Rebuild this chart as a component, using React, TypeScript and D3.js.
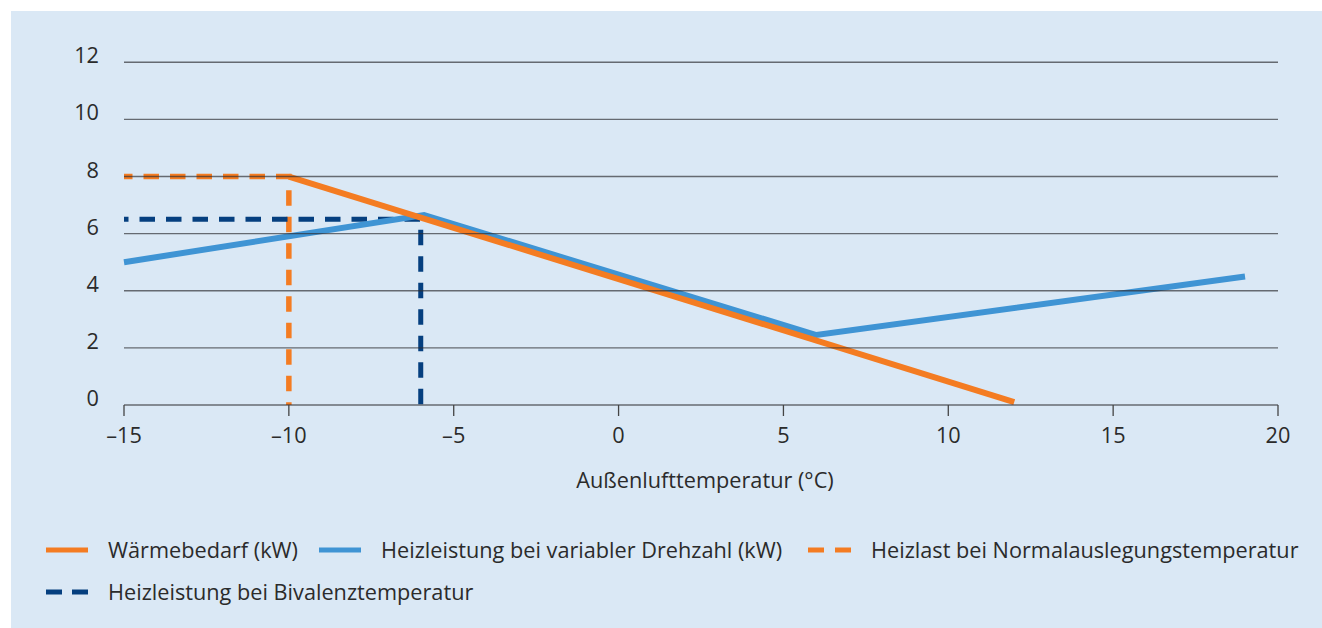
import React from 'react';
import { scaleLinear, line } from 'd3';

const xTicks = [-15, -10, -5, 0, 5, 10, 15, 20];
const yTicks = [0, 2, 4, 6, 8, 10, 12];
const xLabels = ['–15', '–10', '–5', '0', '5', '10', '15', '20'];

// Wärmebedarf (kW)
const demandTemp = [-10, 12];
const demandKw = [8, 0.1];
// Heizleistung bei variabler Drehzahl (kW)
const capacityTemp = [-15, -5.9, 6, 19];
const capacityKw = [5, 6.65, 2.45, 4.5];
// Heizlast bei Normalauslegungstemperatur
const normTemp = [-15, -10, -10];
const normKw = [8, 8, 0];
// Heizleistung bei Bivalenztemperatur
const bivTemp = [-15, -6, -6];
const bivKw = [6.5, 6.5, 0];

const ORANGE = '#f47c22';
const BLUE = '#3f94d4';
const NAVY = '#053f7f';
const TEXT = '#2b2b2b';
const FONT = '"Open Sans", "Liberation Sans", Arial, sans-serif';
const FS = 21.7;

const W = 1322;
const H = 628;

const x = scaleLinear().domain([-15, 20]).range([124, 1278]);
const y = scaleLinear().domain([0, 12]).range([405, 62.3]);

const toPts = (xs: number[], ys: number[]) => xs.map((v, i) => [v, ys[i]] as [number, number]);
const path = line<[number, number]>().x(d => x(d[0])).y(d => y(d[1]));

export default function App() {
  return (
    <svg width={W} height={H} style={{ position: 'absolute', left: 0, top: 0 }} fontFamily={FONT}>
      <rect x={11} y={11} width={W - 11} height={H - 11} fill="#dae8f5" />

      {/* dashed reference lines */}
      <path d={path(toPts(normTemp, normKw)) || ''} fill="none" stroke={ORANGE} strokeWidth={5.5} strokeDasharray="15.5 11" strokeDashoffset={7} />
      <path d={path(toPts(bivTemp, bivKw)) || ''} fill="none" stroke={NAVY} strokeWidth={5} strokeDasharray="15.5 11" strokeDashoffset={11} />

      {/* series */}
      <path d={path(toPts(capacityTemp, capacityKw)) || ''} fill="none" stroke={BLUE} strokeWidth={6} strokeLinejoin="miter" />
      <path d={path(toPts(demandTemp, demandKw)) || ''} fill="none" stroke={ORANGE} strokeWidth={6} />

      {/* grid */}
      {yTicks.map(t => (
        <line key={'g' + t} x1={124} x2={1278} y1={y(t)} y2={y(t)} stroke="rgba(45,45,50,0.68)" strokeWidth={1.4} />
      ))}
      {yTicks.map(t => (
        <text key={'yl' + t} x={99} y={y(t) + 1} textAnchor="end" fontSize={FS} fill={TEXT}>{t}</text>
      ))}

      {/* x axis ticks */}
      {xTicks.map((t, i) => (
        <g key={'x' + t}>
          <line x1={x(t)} x2={x(t)} y1={405} y2={416} stroke="#444" strokeWidth={1.3} />
          <text x={x(t)} y={443} textAnchor="middle" fontSize={FS} fill={TEXT}>{xLabels[i]}</text>
        </g>
      ))}
      <text x={705} y={488} textAnchor="middle" fontSize={FS} fill={TEXT}>Außenlufttemperatur (°C)</text>

      {/* legend */}
      <line x1={46} x2={88} y1={550} y2={550} stroke={ORANGE} strokeWidth={5} />
      <text x={108} y={558} fontSize={FS} fill={TEXT}>Wärmebedarf (kW)</text>
      <line x1={319} x2={361} y1={550} y2={550} stroke={BLUE} strokeWidth={5} />
      <text x={381} y={558} fontSize={FS} fill={TEXT}>Heizleistung bei variabler Drehzahl (kW)</text>
      <line x1={808} x2={851} y1={550} y2={550} stroke={ORANGE} strokeWidth={5} strokeDasharray="16 11" />
      <text x={871} y={558} fontSize={FS} fill={TEXT}>Heizlast bei Normalauslegungstemperatur</text>
      <line x1={46} x2={88} y1={592} y2={592} stroke={NAVY} strokeWidth={5} strokeDasharray="16 10" />
      <text x={108} y={600} fontSize={FS} fill={TEXT}>Heizleistung bei Bivalenztemperatur</text>
    </svg>
  );
}
